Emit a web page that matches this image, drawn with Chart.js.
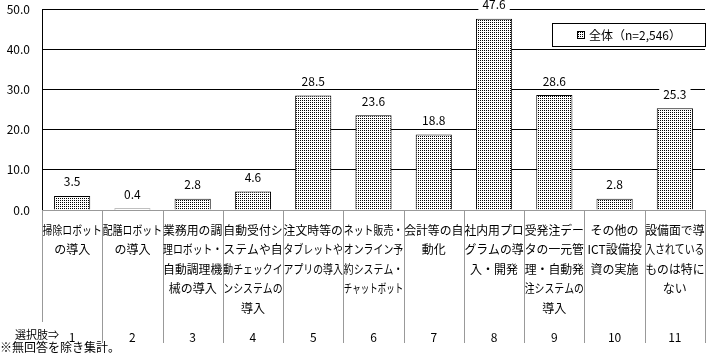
<!DOCTYPE html>
<html>
<head>
<meta charset="UTF-8">
<title>ICT設備投資の実施状況</title>
<script src="https://cdn.jsdelivr.net/npm/chart.js@4.4.0/dist/chart.umd.min.js"></script>
<style>
  html, body { margin: 0; padding: 0; background: #fff; overflow: hidden; }
  canvas { display: block; }
</style>
</head>
<body>
<canvas id="myChart" width="709" height="355"></canvas>
<script>
// 選択肢ごとのラベル（改行済み）
const categories = [
  ['掃除ロボット', 'の導入'],
  ['配膳ロボット', 'の導入'],
  ['業務用の調', '理ロボット・', '自動調理機', '械の導入'],
  ['自動受付シ', 'ステムや自', '動チェックイ', 'ンシステムの', '導入'],
  ['注文時等の', 'タブレットや', 'アプリの導入'],
  ['ネット販売・', 'オンライン予', '約システム・', 'チャットボット'],
  ['会計等の自', '動化'],
  ['社内用プロ', 'グラムの導', '入・開発'],
  ['受発注デー', 'タの一元管', '理・自動発', '注システムの', '導入'],
  ['その他の', 'ICT設備投', '資の実施'],
  ['設備面で導', '入されている', 'ものは特に', 'ない']
];
const choiceNumbers = ['1', '2', '3', '4', '5', '6', '7', '8', '9', '10', '11'];
const values = [3.5, 0.4, 2.8, 4.6, 28.5, 23.6, 18.8, 47.6, 28.6, 2.8, 25.3];
const seriesLabel = '全体（n=2,546）';
const yTicks = [0, 10, 20, 30, 40, 50];
const note = '※無回答を除き集計。';

const FONT = '"Noto Sans CJK JP", "Noto Sans", sans-serif';

// 網掛け（2x2 に黒点ひとつ）
function dotPattern(ctx) {
  const c = document.createElement('canvas');
  c.width = 2; c.height = 2;
  const g = c.getContext('2d');
  g.fillStyle = '#fff';
  g.fillRect(0, 0, 2, 2);
  g.fillStyle = '#000';
  g.fillRect(0, 0, 1, 1);
  return ctx.createPattern(c, 'repeat');
}

const ctx = document.getElementById('myChart').getContext('2d');
const pattern = dotPattern(ctx);

const extras = {
  id: 'extras',
  afterDatasetsDraw(chart) {
    const c = chart.ctx;
    const x = chart.scales.x;
    const area = chart.chartArea;
    const meta = chart.getDatasetMeta(0);
    c.save();

    // 値ラベル（白地でグリッド線を隠す）
    c.font = '12px ' + FONT;
    c.textAlign = 'center';
    c.textBaseline = 'middle';
    meta.data.forEach((bar, i) => {
      const txt = values[i].toFixed(1);
      const ty = bar.y - 14;
      const w = c.measureText(txt).width + 8;
      c.fillStyle = '#fff';
      c.fillRect(bar.x - w / 2, ty - 7, w, 14);
      c.fillStyle = '#000';
      c.fillText(txt, bar.x, ty);
    });

    // 区切り線
    c.strokeStyle = '#999';
    c.lineWidth = 1;
    const step = (x.getPixelForTick(1) - x.getPixelForTick(0));
    for (let i = 0; i <= categories.length; i++) {
      const px = Math.round(x.getPixelForTick(0) - step / 2 + i * step) + 0.5;
      c.beginPath();
      c.moveTo(px, area.bottom);
      c.lineTo(px, i === 0 ? 322 : 343);
      c.stroke();
    }

    // カテゴリ名
    c.fillStyle = '#000';
    categories.forEach((lines, i) => {
      const cx = x.getPixelForTick(i);
      lines.forEach((ln, j) => {
        c.fillText(ln, cx, area.bottom + 20 + j * 19.5, step - 1);
      });
      c.fillText(choiceNumbers[i], cx, 337);
    });

    c.textAlign = 'left';
    c.font = '11px ' + FONT;
    c.fillText('選択肢⇒', 15, 335);
    c.font = '12px ' + FONT;
    c.fillText(note, 0, 347);

    // 凡例
    const lx = 552, ly = 23, lw = 154, lh = 24;
    c.fillStyle = '#fff';
    c.fillRect(lx, ly, lw, lh);
    c.strokeStyle = '#000';
    c.strokeRect(lx + 0.5, ly + 0.5, lw - 1, lh - 1);
    c.fillStyle = pattern;
    c.fillRect(577, 31, 8, 8);
    c.strokeRect(577.5, 31.5, 7, 7);
    c.fillStyle = '#000';
    c.fillText(chart.data.datasets[0].label, 589, 35.5);

    c.restore();
  }
};

new Chart(ctx, {
  type: 'bar',
  data: {
    labels: choiceNumbers,
    datasets: [{
      label: seriesLabel,
      data: values,
      backgroundColor: pattern,
      borderColor: '#000',
      borderWidth: 1,
      barPercentage: 0.6,
      categoryPercentage: 1.0
    }]
  },
  options: {
    responsive: false,
    animation: false,
    maintainAspectRatio: false,
    devicePixelRatio: 1,
    layout: { padding: { top: 9, right: 4, bottom: 145, left: 0 } },
    plugins: {
      legend: { display: false },
      tooltip: { enabled: false }
    },
    scales: {
      x: {
        ticks: { display: false },
        grid: { display: false, drawTicks: false },
        border: { color: '#999' }
      },
      y: {
        min: 0,
        max: 50,
        afterFit: s => { s.width = 42; s.paddingTop = 0; s.paddingBottom = 0; },
        afterBuildTicks: s => { s.ticks = yTicks.map(v => ({ value: v })); },
        ticks: {
          padding: 12,
          color: '#000',
          font: { family: FONT, size: 12 },
          callback: v => Number(v).toFixed(1)
        },
        grid: {
          drawTicks: false,
          color: c => (c.tick && c.tick.value === 0) ? '#999' : '#000'
        },
        border: { color: '#000' }
      }
    }
  },
  plugins: [extras]
});
</script>
</body>
</html>
